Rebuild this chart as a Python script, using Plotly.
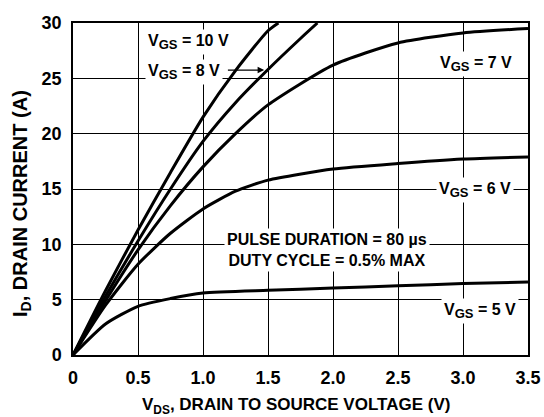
import plotly.graph_objects as go

vds_10 = [0, 0.25, 0.5, 0.75, 1.0, 1.25, 1.5, 1.58]
id_10 = [0, 5.8, 11.3, 16.5, 21.5, 25.7, 29.3, 30]
vds_8 = [0, 0.25, 0.5, 0.75, 1.0, 1.25, 1.5, 1.75, 1.88]
id_8 = [0, 5.3, 10.3, 15.0, 19.3, 22.8, 25.8, 28.6, 30]
vds_7 = [0, 0.25, 0.5, 0.75, 1.0, 1.25, 1.5, 2.0, 2.5, 3.0, 3.5]
id_7 = [0, 4.9, 9.5, 13.5, 17.0, 20.0, 22.6, 26.2, 28.2, 29.1, 29.5]
vds_6 = [0, 0.25, 0.5, 0.75, 1.0, 1.25, 1.5, 2.0, 2.5, 3.0, 3.5]
id_6 = [0, 4.5, 8.2, 11.0, 13.2, 14.8, 15.8, 16.8, 17.3, 17.7, 17.9]
vds_5 = [0, 0.25, 0.5, 0.75, 1.0, 1.5, 2.0, 2.5, 3.0, 3.5]
id_5 = [0, 2.8, 4.4, 5.1, 5.6, 5.85, 6.05, 6.25, 6.45, 6.6]

x_ticks = [0, 0.5, 1.0, 1.5, 2.0, 2.5, 3.0, 3.5]
x_tick_labels = ["0", "0.5", "1.0", "1.5", "2.0", "2.5", "3.0", "3.5"]
y_ticks = [0, 5, 10, 15, 20, 25, 30]
y_tick_labels = ["0", "5", "10", "15", "20", "25", "30"]

FONT = "Liberation Sans, Arial, sans-serif"

fig = go.Figure()
for xs, ys in [(vds_10, id_10), (vds_8, id_8), (vds_7, id_7), (vds_6, id_6), (vds_5, id_5)]:
    fig.add_trace(go.Scatter(x=xs, y=ys, mode="lines",
                             line=dict(color="black", width=3, shape="spline", smoothing=0.6),
                             showlegend=False, hoverinfo="skip"))

SUB = '<sub><span style="font-size:13px">GS</span></sub>'

def ann(text, x, y, xanchor="left"):
    fig.add_annotation(x=x, y=y, xref="x", yref="y", text=text, showarrow=False,
                       xanchor=xanchor, yanchor="middle",
                       font=dict(family=FONT, size=16, color="black"),
                       bgcolor="white", borderpad=2)

ann("<b>V" + SUB + " = 10 V</b>", 0.55, 28.3)
ann("<b>V" + SUB + " = 8 V</b>", 0.55, 25.6)
ann("<b>V" + SUB + " = 7 V</b>", 2.80, 26.3)
ann("<b>V" + SUB + " = 6 V</b>", 2.79, 14.9)
ann("<b>V" + SUB + " = 5 V</b>", 2.83, 4.0)
ann("<b>PULSE DURATION = 80 µs<br>DUTY CYCLE = 0.5% MAX</b>", 1.165, 9.45)

fig.add_annotation(x=1.47, y=25.75, ax=1.18, ay=25.75, xref="x", yref="y", axref="x", ayref="y",
                   text="", showarrow=True, arrowhead=2, arrowsize=1, arrowwidth=1.3,
                   arrowcolor="black")

# axis titles
fig.add_annotation(x=-0.112, y=0.455, xref="paper", yref="paper", showarrow=False,
                   text="<b>I<sub>D</sub>, DRAIN CURRENT (A)</b>", textangle=-90,
                   font=dict(family=FONT, size=20, color="black"),
                   xanchor="center", yanchor="middle")
fig.add_annotation(x=0.49, y=-0.155, xref="paper", yref="paper", showarrow=False,
                   text="<b>V<sub>DS</sub>, DRAIN TO SOURCE VOLTAGE (V)</b>",
                   font=dict(family=FONT, size=17, color="black"),
                   xanchor="center", yanchor="middle")

fig.update_xaxes(range=[0, 3.5], tickvals=x_ticks, ticktext=["<b>%s</b>" % t for t in x_tick_labels],
                 showgrid=True, gridcolor="black", gridwidth=1,
                 showline=True, linecolor="black", linewidth=1.5, mirror=True,
                 ticks="", zeroline=False, automargin=False, ticklabelstandoff=6,
                 tickfont=dict(family=FONT, size=18, color="black"))
fig.update_yaxes(range=[0, 30], tickvals=y_ticks, ticktext=["<b>%s</b>" % t for t in y_tick_labels],
                 showgrid=True, gridcolor="black", gridwidth=1,
                 showline=True, linecolor="black", linewidth=1.5, mirror=True,
                 ticks="", zeroline=False, automargin=False, ticklabelstandoff=6,
                 tickfont=dict(family=FONT, size=18, color="black"))

fig.update_layout(width=544, height=417, margin=dict(l=73, r=16, t=23, b=62),
                  plot_bgcolor="white", paper_bgcolor="white")

fig.write_html("out.html", config={"displayModeBar": False},
               post_script="document.body.style.margin='0';document.body.style.overflow='hidden';")
